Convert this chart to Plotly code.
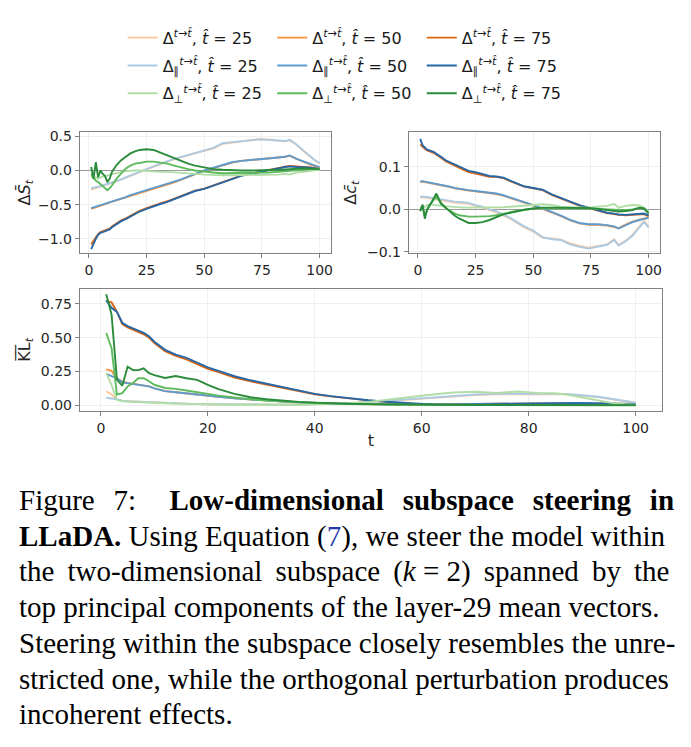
import plotly.graph_objects as go

W, H = 691, 747

# sampled steps (x axis of every panel)
T = [1, 2, 3, 4, 5, 6, 7, 8, 9, 10, 12, 14, 16, 18, 20, 22, 25, 28, 31, 34,
     37, 40, 43, 46, 50, 54, 58, 62, 66, 70, 74, 78, 82, 85, 87, 90, 93, 96, 98, 100]

# --- panel 1: delta S_t ---
S_FULL_25 = [-0.28, -0.27, -0.26, -0.25, -0.24, -0.23, -0.22, -0.21, -0.2, -0.19, -0.16, -0.135, -0.105, -0.08, -0.055, -0.025, 0.015, 0.055, 0.095, 0.135,
             0.165, 0.195, 0.225, 0.255, 0.285, 0.325, 0.39, 0.405, 0.425, 0.445, 0.46, 0.455, 0.44, 0.425, 0.44, 0.375, 0.285, 0.195, 0.145, 0.1]
S_PAR_25 = [-0.26, -0.255, -0.25, -0.24, -0.23, -0.22, -0.21, -0.2, -0.19, -0.18, -0.155, -0.13, -0.1, -0.075, -0.05, -0.02, 0.02, 0.06, 0.1, 0.14,
            0.17, 0.2, 0.23, 0.26, 0.29, 0.33, 0.4, 0.41, 0.43, 0.44, 0.455, 0.45, 0.44, 0.43, 0.45, 0.38, 0.29, 0.2, 0.15, 0.11]
S_PERP_25 = [-0.08, -0.12, -0.1, -0.12, -0.1, -0.09, -0.08, -0.07, -0.06, -0.05, -0.03, -0.02, -0.01, 0.0, 0.0, 0.0, -0.01, -0.01, -0.02, -0.02,
             -0.03, -0.04, -0.05, -0.05, -0.06, -0.07, -0.07, -0.07, -0.07, -0.07, -0.06, -0.06, -0.06, -0.05, -0.06, -0.03, -0.02, 0.0, 0.0, 0.01]
S_FULL_50 = [-0.56, -0.55, -0.54, -0.53, -0.51, -0.5, -0.49, -0.48, -0.465, -0.455, -0.435, -0.415, -0.395, -0.37, -0.35, -0.33, -0.3, -0.27, -0.24, -0.205,
             -0.175, -0.135, -0.095, -0.055, -0.005, 0.035, 0.075, 0.115, 0.14, 0.155, 0.165, 0.18, 0.19, 0.2, 0.215, 0.17, 0.125, 0.085, 0.065, 0.045]
S_PAR_50 = [-0.55, -0.54, -0.53, -0.51, -0.5, -0.49, -0.48, -0.47, -0.46, -0.45, -0.43, -0.41, -0.39, -0.36, -0.34, -0.32, -0.29, -0.26, -0.23, -0.2,
            -0.17, -0.13, -0.09, -0.05, 0.0, 0.04, 0.08, 0.12, 0.14, 0.15, 0.16, 0.18, 0.19, 0.2, 0.22, 0.17, 0.13, 0.09, 0.07, 0.05]
S_PERP_50 = [-0.05, -0.1, -0.15, -0.17, -0.2, -0.23, -0.27, -0.29, -0.26, -0.22, -0.12, -0.04, 0.03, 0.07, 0.1, 0.11, 0.13, 0.13, 0.12, 0.1,
             0.07, 0.04, 0.02, 0.0, -0.02, -0.03, -0.04, -0.04, -0.04, -0.04, -0.035, -0.03, -0.02, -0.01, -0.01, 0.0, 0.01, 0.02, 0.02, 0.02]
S_FULL_75 = [-1.08, -1.03, -0.98, -0.93, -0.9, -0.89, -0.88, -0.87, -0.85, -0.82, -0.77, -0.73, -0.7, -0.66, -0.62, -0.59, -0.55, -0.51, -0.48, -0.45,
             -0.41, -0.37, -0.335, -0.295, -0.265, -0.215, -0.165, -0.115, -0.075, -0.045, -0.015, 0.015, 0.035, 0.055, 0.065, 0.06, 0.055, 0.045, 0.035, 0.025]
S_PAR_75 = [-1.15, -1.06, -1.0, -0.94, -0.91, -0.9, -0.89, -0.88, -0.86, -0.83, -0.78, -0.74, -0.71, -0.67, -0.63, -0.6, -0.56, -0.52, -0.49, -0.46,
            -0.42, -0.38, -0.34, -0.3, -0.27, -0.22, -0.17, -0.12, -0.08, -0.05, -0.02, 0.01, 0.03, 0.05, 0.06, 0.05, 0.05, 0.04, 0.03, 0.02]
S_PERP_75 = [0.05, -0.12, 0.12, -0.1, 0.0, -0.05, -0.08, -0.17, -0.12, -0.02, 0.08, 0.15, 0.2, 0.25, 0.28, 0.3, 0.31, 0.3, 0.26, 0.22,
             0.17, 0.13, 0.1, 0.07, 0.04, 0.02, 0.01, 0.0, 0.0, 0.0, 0.0, 0.005, 0.01, 0.015, 0.02, 0.03, 0.03, 0.025, 0.02, 0.02]

# --- panel 2: delta c_t ---
C_FULL_25 = [0.028, 0.028, 0.027, 0.027, 0.026, 0.025, 0.024, 0.023, 0.022, 0.021, 0.019, 0.018, 0.016, 0.015, 0.014, 0.013, 0.008, 0.004, -0.002, -0.007,
             -0.014, -0.022, -0.032, -0.042, -0.052, -0.067, -0.068, -0.071, -0.08, -0.086, -0.09, -0.086, -0.082, -0.07, -0.083, -0.074, -0.06, -0.04, -0.028, -0.04]
C_PAR_25 = [0.03, 0.03, 0.029, 0.029, 0.028, 0.027, 0.026, 0.025, 0.024, 0.023, 0.021, 0.02, 0.018, 0.017, 0.016, 0.015, 0.01, 0.006, 0.0, -0.005,
            -0.012, -0.02, -0.03, -0.04, -0.05, -0.065, -0.07, -0.072, -0.082, -0.088, -0.092, -0.087, -0.083, -0.072, -0.085, -0.075, -0.062, -0.042, -0.03, -0.043]
C_PERP_25 = [0.003, 0.008, 0.005, 0.01, 0.01, 0.012, 0.01, 0.01, 0.009, 0.008, 0.007, 0.006, 0.005, 0.005, 0.004, 0.004, 0.004, 0.004, 0.004, 0.005,
             0.005, 0.006, 0.007, 0.008, 0.01, 0.012, 0.01, 0.006, 0.005, 0.004, 0.004, 0.006, 0.008, 0.013, 0.004, 0.008, 0.01, 0.009, 0.004, -0.005]
C_FULL_50 = [0.064, 0.065, 0.064, 0.063, 0.062, 0.061, 0.06, 0.059, 0.058, 0.057, 0.054, 0.052, 0.049, 0.047, 0.046, 0.044, 0.042, 0.04, 0.039, 0.036,
             0.032, 0.027, 0.022, 0.017, 0.009, 0.001, -0.007, -0.016, -0.026, -0.033, -0.036, -0.036, -0.038, -0.041, -0.044, -0.036, -0.029, -0.024, -0.021, -0.019]
C_PAR_50 = [0.065, 0.066, 0.065, 0.064, 0.063, 0.062, 0.061, 0.06, 0.059, 0.058, 0.055, 0.053, 0.05, 0.048, 0.047, 0.045, 0.043, 0.041, 0.04, 0.037,
            0.033, 0.028, 0.023, 0.018, 0.01, 0.002, -0.006, -0.015, -0.025, -0.032, -0.035, -0.035, -0.037, -0.04, -0.045, -0.037, -0.03, -0.025, -0.022, -0.02]
C_PERP_50 = [-0.004, 0.008, -0.015, 0.0, 0.01, 0.016, 0.024, 0.03, 0.022, 0.012, 0.003, -0.004, -0.01, -0.014, -0.016, -0.017, -0.017, -0.017, -0.016, -0.014,
             -0.01, -0.007, -0.004, -0.001, 0.002, 0.003, 0.003, 0.003, 0.003, 0.002, 0.002, 0.001, 0.0, -0.001, -0.002, -0.002, 0.0, 0.003, 0.001, -0.008]
C_FULL_75 = [0.152, 0.146, 0.142, 0.138, 0.136, 0.134, 0.132, 0.128, 0.125, 0.121, 0.113, 0.107, 0.103, 0.097, 0.092, 0.087, 0.084, 0.08, 0.076, 0.076,
             0.073, 0.066, 0.059, 0.053, 0.049, 0.045, 0.034, 0.025, 0.017, 0.009, 0.003, -0.003, -0.009, -0.011, -0.013, -0.014, -0.013, -0.011, -0.011, -0.016]
C_PAR_75 = [0.165, 0.15, 0.145, 0.14, 0.138, 0.136, 0.134, 0.13, 0.127, 0.123, 0.115, 0.11, 0.106, 0.1, 0.095, 0.09, 0.087, 0.082, 0.078, 0.077,
            0.074, 0.067, 0.06, 0.054, 0.05, 0.046, 0.035, 0.026, 0.018, 0.01, 0.004, -0.002, -0.008, -0.01, -0.012, -0.013, -0.012, -0.01, -0.01, -0.015]
C_PERP_75 = [-0.004, 0.011, -0.022, 0.0, 0.008, 0.018, 0.028, 0.037, 0.025, 0.015, 0.004, -0.006, -0.015, -0.022, -0.028, -0.032, -0.032, -0.03, -0.025, -0.018,
             -0.012, -0.008, -0.004, -0.001, 0.002, 0.004, 0.004, 0.004, 0.004, 0.004, 0.003, 0.001, -0.002, -0.004, -0.005, -0.004, -0.002, 0.004, 0.002, -0.01]

# --- panel 3: mean KL_t ---
KL_FULL_25 = [0.104, 0.08, 0.043, 0.032, 0.03, 0.028, 0.027, 0.025, 0.022, 0.02, 0.016, 0.013, 0.011, 0.009, 0.008, 0.007, 0.006, 0.005, 0.005, 0.005,
              0.006, 0.008, 0.011, 0.015, 0.022, 0.033, 0.047, 0.059, 0.069, 0.077, 0.082, 0.084, 0.083, 0.082, 0.082, 0.072, 0.061, 0.043, 0.03, 0.019]
KL_PAR_25 = [0.056, 0.052, 0.045, 0.035, 0.03, 0.028, 0.027, 0.025, 0.022, 0.02, 0.016, 0.013, 0.011, 0.009, 0.008, 0.007, 0.006, 0.005, 0.005, 0.005,
             0.006, 0.008, 0.011, 0.016, 0.024, 0.035, 0.05, 0.062, 0.072, 0.08, 0.085, 0.088, 0.087, 0.085, 0.085, 0.075, 0.064, 0.045, 0.032, 0.02]
KL_PERP_25 = [0.24, 0.15, 0.04, 0.03, 0.028, 0.027, 0.026, 0.025, 0.022, 0.02, 0.016, 0.013, 0.01, 0.008, 0.007, 0.006, 0.005, 0.004, 0.004, 0.004,
              0.005, 0.007, 0.01, 0.015, 0.025, 0.045, 0.065, 0.08, 0.095, 0.1, 0.092, 0.102, 0.09, 0.09, 0.08, 0.06, 0.035, 0.015, 0.008, 0.005]
KL_FULL_50 = [0.266, 0.255, 0.2, 0.175, 0.165, 0.16, 0.155, 0.148, 0.14, 0.125, 0.105, 0.097, 0.09, 0.082, 0.072, 0.064, 0.052, 0.043, 0.035, 0.028,
              0.022, 0.018, 0.014, 0.011, 0.009, 0.007, 0.006, 0.007, 0.009, 0.011, 0.013, 0.015, 0.017, 0.018, 0.019, 0.018, 0.016, 0.013, 0.012, 0.011]
KL_PAR_50 = [0.232, 0.215, 0.2, 0.17, 0.165, 0.16, 0.155, 0.148, 0.14, 0.125, 0.105, 0.097, 0.09, 0.082, 0.072, 0.064, 0.052, 0.043, 0.035, 0.028,
             0.022, 0.018, 0.014, 0.011, 0.009, 0.007, 0.006, 0.007, 0.009, 0.011, 0.013, 0.015, 0.017, 0.018, 0.019, 0.018, 0.016, 0.013, 0.012, 0.011]
KL_PERP_50 = [0.534, 0.42, 0.08, 0.09, 0.14, 0.165, 0.2, 0.2, 0.178, 0.152, 0.128, 0.122, 0.11, 0.1, 0.085, 0.072, 0.057, 0.045, 0.035, 0.028,
              0.022, 0.017, 0.013, 0.01, 0.007, 0.005, 0.004, 0.003, 0.003, 0.002, 0.002, 0.002, 0.002, 0.001, 0.001, 0.001, 0.001, 0.001, 0.001, 0.001]
KL_FULL_75 = [0.77, 0.76, 0.69, 0.6, 0.575, 0.56, 0.545, 0.525, 0.5, 0.46, 0.4, 0.365, 0.34, 0.305, 0.27, 0.245, 0.205, 0.177, 0.152, 0.128,
              0.105, 0.082, 0.066, 0.052, 0.037, 0.024, 0.012, 0.006, 0.005, 0.007, 0.009, 0.011, 0.013, 0.015, 0.016, 0.016, 0.013, 0.01, 0.008, 0.007]
KL_PAR_75 = [0.775, 0.72, 0.69, 0.61, 0.585, 0.57, 0.555, 0.535, 0.51, 0.47, 0.41, 0.375, 0.35, 0.315, 0.28, 0.255, 0.215, 0.185, 0.16, 0.135,
             0.11, 0.085, 0.068, 0.053, 0.038, 0.025, 0.013, 0.006, 0.005, 0.007, 0.009, 0.011, 0.013, 0.015, 0.016, 0.016, 0.013, 0.01, 0.008, 0.007]
KL_PERP_75 = [0.82, 0.67, 0.19, 0.145, 0.285, 0.26, 0.26, 0.273, 0.237, 0.223, 0.202, 0.217, 0.2, 0.188, 0.152, 0.12, 0.085, 0.06, 0.045, 0.034,
              0.026, 0.02, 0.015, 0.012, 0.009, 0.007, 0.005, 0.004, 0.003, 0.003, 0.003, 0.002, 0.002, 0.002, 0.002, 0.002, 0.002, 0.002, 0.002, 0.002]

STEPS = [25, 50, 75]
FULL_COLORS = ['#fdc69a', '#f7913d', '#dd6410']
PAR_COLORS = ['#abcbe5', '#5e9ccf', '#2767a6']
PERP_COLORS = ['#b1dea7', '#5dba5d', '#2a8b3b']

SUP = '<sup><i>t</i>→<i>t̂</i></sup>'
series = []
for i, k in enumerate(STEPS):
    series.append(('full', k, 'Δ' + SUP + ', <i>t̂</i> = %d' % k, FULL_COLORS[i]))
for i, k in enumerate(STEPS):
    series.append(('par', k, 'Δ<sub>∥</sub>' + SUP + ', <i>t̂</i> = %d' % k, PAR_COLORS[i]))
for i, k in enumerate(STEPS):
    series.append(('perp', k, 'Δ<sub>⊥</sub>' + SUP + ', <i>t̂</i> = %d' % k, PERP_COLORS[i]))

DATA = {
    ('full', 25): (S_FULL_25, C_FULL_25, KL_FULL_25),
    ('full', 50): (S_FULL_50, C_FULL_50, KL_FULL_50),
    ('full', 75): (S_FULL_75, C_FULL_75, KL_FULL_75),
    ('par', 25): (S_PAR_25, C_PAR_25, KL_PAR_25),
    ('par', 50): (S_PAR_50, C_PAR_50, KL_PAR_50),
    ('par', 75): (S_PAR_75, C_PAR_75, KL_PAR_75),
    ('perp', 25): (S_PERP_25, C_PERP_25, KL_PERP_25),
    ('perp', 50): (S_PERP_50, C_PERP_50, KL_PERP_50),
    ('perp', 75): (S_PERP_75, C_PERP_75, KL_PERP_75),
}
LEGEND_OF = {25: 'legend', 50: 'legend2', 75: 'legend3'}

fig = go.Figure()

for kind, k, label, color in series:
    for p, (xa, ya) in enumerate([('x', 'y'), ('x2', 'y2'), ('x3', 'y3')]):
        fig.add_trace(go.Scatter(
            x=T, y=DATA[(kind, k)][p], mode='lines', name=label,
            line=dict(color=color, width=1.9),
            xaxis=xa, yaxis=ya,
            legend=LEGEND_OF[k], legendgroup=kind + str(k),
            showlegend=(p == 0),
        ))


def dx(a, b):
    return [a / W, b / W]


def dy(top, bottom):
    return [1 - bottom / H, 1 - top / H]


tick_font = dict(family='DejaVu Sans', size=14, color='#262626')
title_font = dict(family='DejaVu Sans', size=16, color='#262626')
axis_common = dict(
    showline=True, mirror=True, linecolor='#808080', linewidth=1,
    ticks='outside', ticklen=4, tickcolor='#808080', tickwidth=1,
    showgrid=True, gridcolor='#efefef', gridwidth=1,
    tickfont=tick_font, zeroline=False,
)
x_ticks = dict(tickvals=[0, 25, 50, 75, 100], ticktext=['0', '25', '50', '75', '100'])

fig.update_layout(
    xaxis=dict(domain=dx(80, 332), range=[-3.95, 104.95], anchor='y', **x_ticks, **axis_common),
    yaxis=dict(domain=dy(130, 253), range=[-1.21, 0.561], anchor='x',
               tickvals=[-1.0, -0.5, 0.0, 0.5], ticktext=['−1.0', '−0.5', '0.0', '0.5'],
               title=dict(text='Δ<i>S̄</i><sub><i>t</i></sub>', font=title_font, standoff=3),
               **{**axis_common, 'zeroline': True, 'zerolinecolor': '#9a9a9a', 'zerolinewidth': 1}),
    xaxis2=dict(domain=dx(410, 662), range=[-3.95, 104.95], anchor='y2', **x_ticks, **axis_common),
    yaxis2=dict(domain=dy(130, 253), range=[-0.103, 0.181], anchor='x2',
                tickvals=[-0.1, 0.0, 0.1], ticktext=['−0.1', '0.0', '0.1'],
                title=dict(text='Δ<i>c̄</i><sub><i>t</i></sub>', font=title_font, standoff=6),
                **{**axis_common, 'zeroline': True, 'zerolinecolor': '#9a9a9a', 'zerolinewidth': 1}),
    xaxis3=dict(domain=dx(80, 664), range=[-3.95, 104.95], anchor='y3',
                tickvals=[0, 20, 40, 60, 80, 100], ticktext=['0', '20', '40', '60', '80', '100'],
                title=dict(text='t', font=title_font, standoff=0),
                **axis_common),
    yaxis3=dict(domain=dy(289, 413), range=[-0.041, 0.861], anchor='x3',
                tickvals=[0, 0.25, 0.5, 0.75], ticktext=['0.00', '0.25', '0.50', '0.75'],
                title=dict(text='K̅L̅<sub><i>t</i></sub>', font=title_font, standoff=6),
                **axis_common),
)

legend_common = dict(
    orientation='v', xanchor='left', yanchor='top', y=1 - 17 / H,
    bgcolor='rgba(0,0,0,0)', tracegroupgap=4,
    font=dict(family='DejaVu Sans', size=16, color='#1a1a1a'),
)
fig.update_layout(
    legend=dict(x=123 / W, **legend_common),
    legend2=dict(x=273 / W, **legend_common),
    legend3=dict(x=423 / W, **legend_common),
)

# justified caption: extra thin/no-break spaces widen the short lines
NB = '\u00a0'
TH = '\u2009'
GAP = NB + TH + TH
CAPTION = [
    'Figure' + GAP + '7:' + NB + NB + NB + TH + TH + '<b>Low-dimensional' + GAP + 'subspace' + GAP + 'steering' + GAP + 'in</b>',
    "<b>LLaDA.</b> Using Equation (<span style='color:#1f3aa8'>7</span>), we steer the model within",
    'the' + TH + ' two-dimensional' + TH + ' subspace' + TH + ' (<i>k</i> = 2)' + TH + ' spanned' + TH + ' by' + TH + ' the',
    'top principal components of the layer-29 mean vectors.',
    'Steering within the subspace closely resembles the unre-',
    'stricted one, while the orthogonal perturbation produces',
    'incoherent effects.',
]
CAPTION_Y = [503, 540, 576, 612, 649, 685, 721]
for line, yc in zip(CAPTION, CAPTION_Y):
    fig.add_annotation(
        text=line, xref='paper', yref='paper', x=17 / W, y=1 - yc / H,
        xanchor='left', yanchor='middle', showarrow=False,
        font=dict(family='Liberation Serif', size=29, color='black'),
    )

fig.update_layout(
    width=W, height=H, margin=dict(l=0, r=0, t=0, b=0),
    paper_bgcolor='white', plot_bgcolor='white',
)

fig.write_html('out.html', config={'displayModeBar': False},
               post_script="document.body.style.margin='0';")
